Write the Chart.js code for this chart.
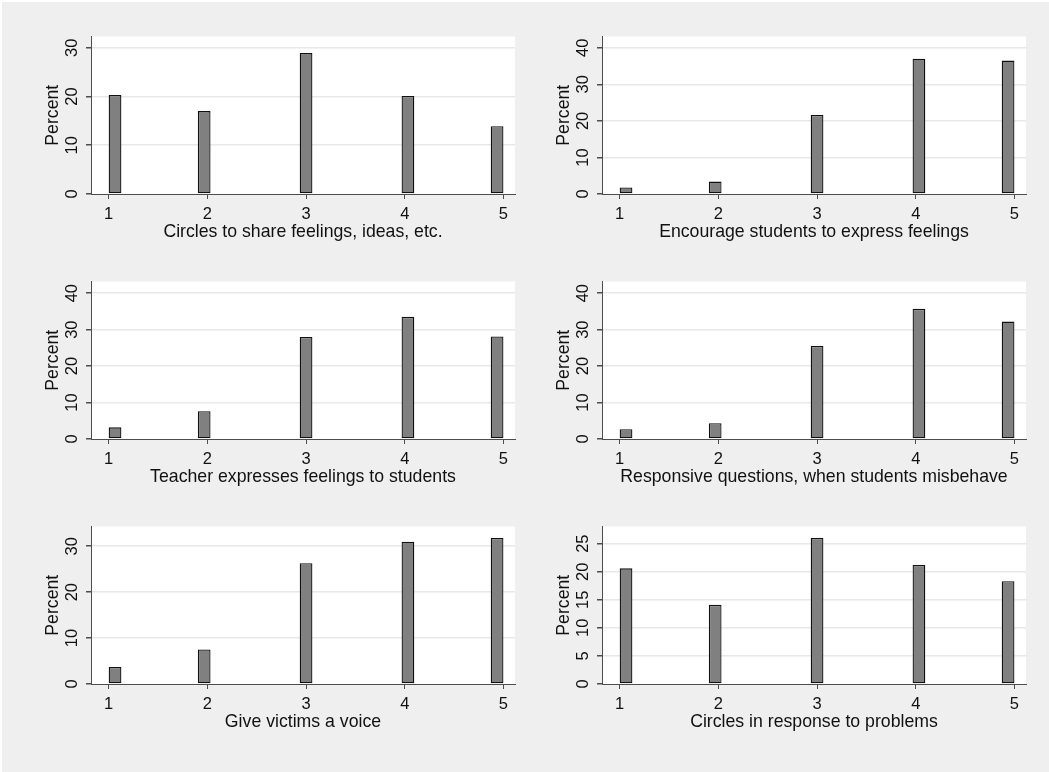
<!DOCTYPE html>
<html>
<head>
<meta charset="utf-8">
<script src="https://cdn.jsdelivr.net/npm/chart.js@4.4.1/dist/chart.umd.min.js"></script>
<style>
  html, body { margin: 0; padding: 0; background: #ffffff; }
  #page { position: relative; width: 1049px; height: 772px; overflow: hidden; }
  #bg { position: absolute; left: 2px; top: 2px; right: 0; bottom: 0; background: #efefef; }
  .panel { position: absolute; }
  .panel canvas { display: block; }
</style>
</head>
<body>
<div id="page">
  <div id="bg"></div>
  <div class="panel" style="left:0px;top:0px"><canvas id="p0" width="524" height="245"></canvas></div>
  <div class="panel" style="left:511px;top:0px"><canvas id="p1" width="524" height="245"></canvas></div>
  <div class="panel" style="left:0px;top:245px"><canvas id="p2" width="524" height="245"></canvas></div>
  <div class="panel" style="left:511px;top:245px"><canvas id="p3" width="524" height="245"></canvas></div>
  <div class="panel" style="left:0px;top:490px"><canvas id="p4" width="524" height="245"></canvas></div>
  <div class="panel" style="left:511px;top:490px"><canvas id="p5" width="524" height="245"></canvas></div>
</div>
<script>
// Response categories (1 = never ... 5 = always)
const categories = [1, 2, 3, 4, 5];

// Percent of respondents in each category, one array per practice
const circlesShare        = [20.3, 17.0, 28.9, 20.1, 13.9];
const encourageExpress    = [1.8, 3.4, 21.6, 37.0, 36.5];
const teacherExpresses    = [3.2, 7.6, 28.0, 33.5, 28.1];
const responsiveQuestions = [2.7, 4.3, 25.5, 35.7, 32.2];
const victimsVoice        = [3.7, 7.5, 26.3, 31.0, 31.8];
const circlesProblems     = [20.6, 14.1, 26.0, 21.2, 18.3];

// Axis titles
const xTitles = [
  "Circles to share feelings, ideas, etc.",
  "Encourage students to express feelings",
  "Teacher expresses feelings to students",
  "Responsive questions, when students misbehave",
  "Give victims a voice",
  "Circles in response to problems"
];
const yTitle = "Percent";

// Tick labels
const xTickLabels = [1, 2, 3, 4, 5];
const yTicksA = [0, 10, 20, 30];
const yTicksB = [0, 10, 20, 30, 40];
const yTicksC = [0, 5, 10, 15, 20, 25];

const series = [circlesShare, encourageExpress, teacherExpresses, responsiveQuestions, victimsVoice, circlesProblems];
const yTickSets = [yTicksA, yTicksB, yTicksB, yTicksB, yTicksA, yTicksC];
const yMax = [32.3, 43.1, 43.2, 43.2, 34.3, 28.06];

// Histogram binning over the 1..5 range
const NBINS = 31;
const X_MIN = 0.821, X_MAX = 5.117;
const lo = categories[0], hi = categories[categories.length - 1];
const binWidth = (hi - lo) / NBINS;
function binCenter(v) {
  const k = Math.min(NBINS - 1, Math.floor((v - lo) / binWidth));
  return lo + (k + 0.5) * binWidth;
}
// Chart.js sizes linear-axis bars from the smallest gap between neighbouring
// samples, and separately between neighbouring ticks
function minGap(list) {
  const vals = list.slice().sort((a, b) => a - b);
  let g = Infinity;
  for (let i = 1; i < vals.length; i++) {
    const d = vals[i] - vals[i - 1];
    if (d > 1e-9) g = Math.min(g, d);
  }
  return g;
}
const centers = categories.map(binCenter);
const barPct = binWidth / Math.min(minGap(centers), minGap(xTickLabels));

const FONT = "'Liberation Sans', Arial, Helvetica, sans-serif";
const AXIS = '#4d4d4d';
const TICK_SIZE = 16.5;
const TITLE_SIZE = 17.7;

const plotBackground = {
  id: 'plotBackground',
  beforeDraw(chart) {
    const { ctx, chartArea: a } = chart;
    ctx.save();
    ctx.fillStyle = '#ffffff';
    ctx.fillRect(a.left, a.top, a.right - a.left, a.bottom - a.top);
    ctx.restore();
  }
};

series.forEach((values, idx) => {
  const ticksY = yTickSets[idx];
  new Chart(document.getElementById('p' + idx), {
    type: 'bar',
    data: {
      datasets: [{
        data: values.map((v, i) => ({ x: binCenter(categories[i]), y: v })),
        backgroundColor: '#808080',
        borderColor: '#111111',
        borderWidth: 1.3,
        borderSkipped: false,
        barPercentage: barPct,
        categoryPercentage: 1
      }]
    },
    options: {
      responsive: false,
      animation: false,
      events: [],
      layout: { padding: { top: 36.5, right: 9, bottom: 0, left: 0 } },
      plugins: { legend: { display: false }, tooltip: { enabled: false } },
      scales: {
        x: {
          type: 'linear',
          offset: false,
          min: X_MIN,
          max: X_MAX,
          afterBuildTicks: s => { s.ticks = xTickLabels.map(v => ({ value: v })); },
          afterFit: s => { s.height = 51; },
          ticks: {
            color: '#111',
            font: { family: FONT, size: TICK_SIZE },
            padding: 6,
            maxRotation: 0,
            autoSkip: false,
            callback: v => String(v)
          },
          grid: {
            offset: false,
            drawOnChartArea: false,
            drawTicks: true,
            tickLength: 5,
            tickColor: AXIS,
            lineWidth: 1
          },
          border: { color: AXIS, width: 1 },
          title: {
            display: true,
            text: xTitles[idx],
            color: '#111',
            font: { family: FONT, size: TITLE_SIZE },
            padding: { top: 0, bottom: 2 }
          }
        },
        y: {
          type: 'linear',
          min: 0,
          max: yMax[idx],
          afterBuildTicks: s => { s.ticks = ticksY.map(v => ({ value: v })); },
          afterFit: s => { s.width = 91; },
          ticks: {
            color: '#111',
            font: { family: FONT, size: TICK_SIZE },
            minRotation: 90,
            maxRotation: 90,
            crossAlign: 'center',
            padding: 4,
            autoSkip: false,
            callback: v => String(v)
          },
          grid: {
            color: c => (c.tick && c.tick.value === 0) ? 'rgba(0,0,0,0)' : '#e8e8e8',
            lineWidth: 1.5,
            drawTicks: true,
            tickLength: 5,
            tickColor: AXIS
          },
          border: { color: AXIS, width: 1 },
          title: {
            display: true,
            text: yTitle,
            color: '#111',
            font: { family: FONT, size: TITLE_SIZE },
            padding: { top: 42, bottom: 0 }
          }
        }
      }
    },
    plugins: [plotBackground]
  });
});
</script>
</body>
</html>
